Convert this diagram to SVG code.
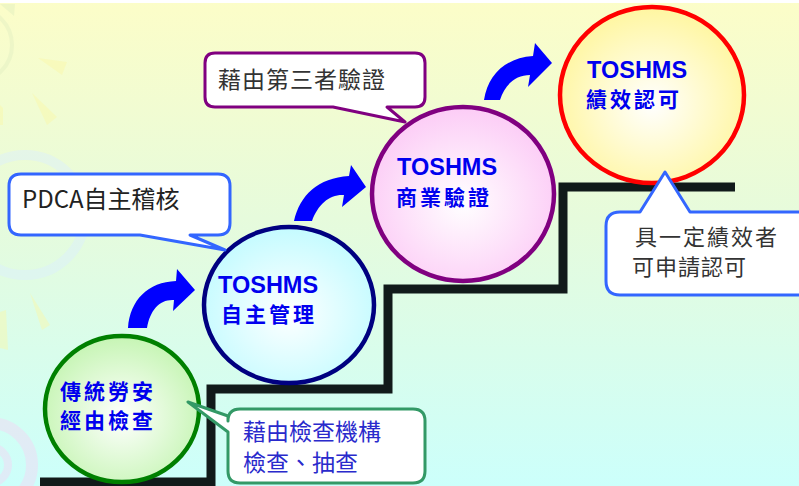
<svg xmlns="http://www.w3.org/2000/svg" width="799" height="486" viewBox="0 0 799 486">
<defs>
<linearGradient id="bg" x1="0" y1="0" x2="0" y2="1">
<stop offset="0" stop-color="#fcfdc8"/>
<stop offset="0.45" stop-color="#e6fbdc"/>
<stop offset="1" stop-color="#ccfffb"/>
</linearGradient>
<radialGradient id="gGreen" cx="0.5" cy="0.55" r="0.55">
<stop offset="0" stop-color="#ffffff"/>
<stop offset="1" stop-color="#c6f5b4"/>
</radialGradient>
<radialGradient id="gCyan" cx="0.5" cy="0.55" r="0.55">
<stop offset="0" stop-color="#ffffff"/>
<stop offset="1" stop-color="#c4fbff"/>
</radialGradient>
<radialGradient id="gPink" cx="0.5" cy="0.55" r="0.55">
<stop offset="0" stop-color="#ffffff"/>
<stop offset="1" stop-color="#fcccf6"/>
</radialGradient>
<radialGradient id="gYellow" cx="0.5" cy="0.55" r="0.55">
<stop offset="0" stop-color="#ffffff"/>
<stop offset="1" stop-color="#fff6a0"/>
</radialGradient>
</defs>
<style>
.circle{stroke-width:4.5}
.t1{font-family:"Liberation Sans",Arial,sans-serif;font-weight:bold;font-size:23.5px;fill:#0000ee}
.t2{font-family:"Noto Sans CJK TC","Noto Sans CJK SC",sans-serif;font-weight:bold;font-size:21px;fill:#0000ee;letter-spacing:3px}
.call{fill:#ffffff;stroke-width:3;stroke-linejoin:round}
.ct{font-family:"Noto Sans CJK TC","Noto Sans CJK SC",sans-serif;font-size:23px;fill:#333333}
.arrow{fill:#0000ff}
.stair{fill:none;stroke:#111a1a;stroke-width:9;stroke-linejoin:miter}
.deco{fill:none}
</style>
<rect width="799" height="486" fill="url(#bg)"/>
<rect width="799" height="3" fill="#ffffff"/>
<g id="decor" opacity="0.45">
<circle cx="-25" cy="45" r="37" class="deco" stroke="#e2efc2" stroke-width="4"/>
<polygon points="0,4 15,4 14,16" fill="#e0eec0"/>
<polygon points="38,58 67,62 62,75" fill="#fbf8a8"/>
<polygon points="32,93 57,117 47,125" fill="#fbf8a8"/>
<polygon points="0,105 3,108 3,125 0,125" fill="#fbf8a8"/>
<polygon points="30,293 50,325 42,330" fill="#fbf8a8"/>
<polygon points="0,312 6,310 8,350 0,348" fill="#fbf8a8"/>
<circle cx="25" cy="215" r="60" class="deco" stroke="#dcefff" stroke-width="10"/>
<circle cx="-10" cy="465" r="42" class="deco" stroke="#f6d6f4" stroke-width="12"/>
<circle cx="-10" cy="465" r="18" class="deco" stroke="#f6d6f4" stroke-width="8"/>
</g>
<g id="connectors">
<path class="stair" d="M40,482 H211 V389 H388 V289 H563 V187 H735"/>
<path class="arrow" d="M128,328 C130,300 148,282 176,281 L177,269 L195,290 L173,311 L174,300 C160,299 150,310 147,328 Z"/>
<path class="arrow" d="M294,221 C300,195 318,178 349,176 L351,165 L366,187 L342,207 L344,195 C330,194 318,204 312,221 Z"/>
<path class="arrow" d="M484,100 C488,75 505,58 533,56 L535,43 L552,63 L528,87 L530,75 C516,75 505,84 500,100 Z"/>
</g>
<g id="node-traditional">
<ellipse class="circle" cx="122" cy="409" rx="77" ry="73" fill="url(#gGreen)" stroke="#008000"/>
<text class="t2" x="60" y="399">傳統勞安</text>
<text class="t2" x="60" y="428">經由檢查</text>
</g>
<g id="node-self">
<ellipse class="circle" cx="289" cy="305" rx="85" ry="78" fill="url(#gCyan)" stroke="#000080"/>
<text class="t1" x="218" y="293">TOSHMS</text>
<text class="t2" x="221" y="322">自主管理</text>
</g>
<g id="node-business">
<ellipse class="circle" cx="463" cy="194" rx="91" ry="87" fill="url(#gPink)" stroke="#800080"/>
<text class="t1" x="397" y="175">TOSHMS</text>
<text class="t2" x="396" y="205">商業驗證</text>
</g>
<g id="node-accredit">
<ellipse class="circle" cx="652" cy="95" rx="92" ry="88" fill="url(#gYellow)" stroke="#ff0000" stroke-width="5"/>
<text class="t1" x="587" y="78">TOSHMS</text>
<text class="t2" x="586" y="107">績效認可</text>
</g>
<g id="callout-third">
<path class="call" stroke="#800080" d="M215,53 H415 Q425,53 425,63 V97 Q425,107 415,107 H387 L405,122 L333,107 H215 Q205,107 205,97 V63 Q205,53 215,53 Z"/>
<text class="ct" x="218" y="88" style="letter-spacing:1px">藉由第三者驗證</text>
</g>
<g id="callout-pdca">
<path class="call" stroke="#3366ff" d="M21,174 H218 Q230,174 230,186 V223 Q230,235 218,235 H190 L225,250 L140,235 H21 Q9,235 9,223 V186 Q9,174 21,174 Z"/>
<text class="ct" x="22" y="208" style="font-size:24px;fill:#222222">PDCA自主稽核</text>
</g>
<g id="callout-perf">
<path class="call" stroke="#3366ff" d="M620,212 H640 L665,172 L690,212 H830 V295 H620 Q606,295 606,281 V226 Q606,212 620,212 Z"/>
<text class="ct" x="635" y="245" style="font-size:22px;letter-spacing:2px">具一定績效者</text>
<text class="ct" x="632" y="275" style="font-size:22px;letter-spacing:1px">可申請認可</text>
</g>
<g id="callout-inspect">
<path class="call" stroke="#339966" d="M240,409 H413 Q425,409 425,421 V471 Q425,483 413,483 H240 Q228,483 228,471 V432 L188,402 L228,416 V421 Q228,409 240,409 Z"/>
<text class="ct" x="243" y="440" style="fill:#2a2acc">藉由檢查機構</text>
<text class="ct" x="243" y="471" style="fill:#2a2acc">檢查、抽查</text>
</g>
</svg>
